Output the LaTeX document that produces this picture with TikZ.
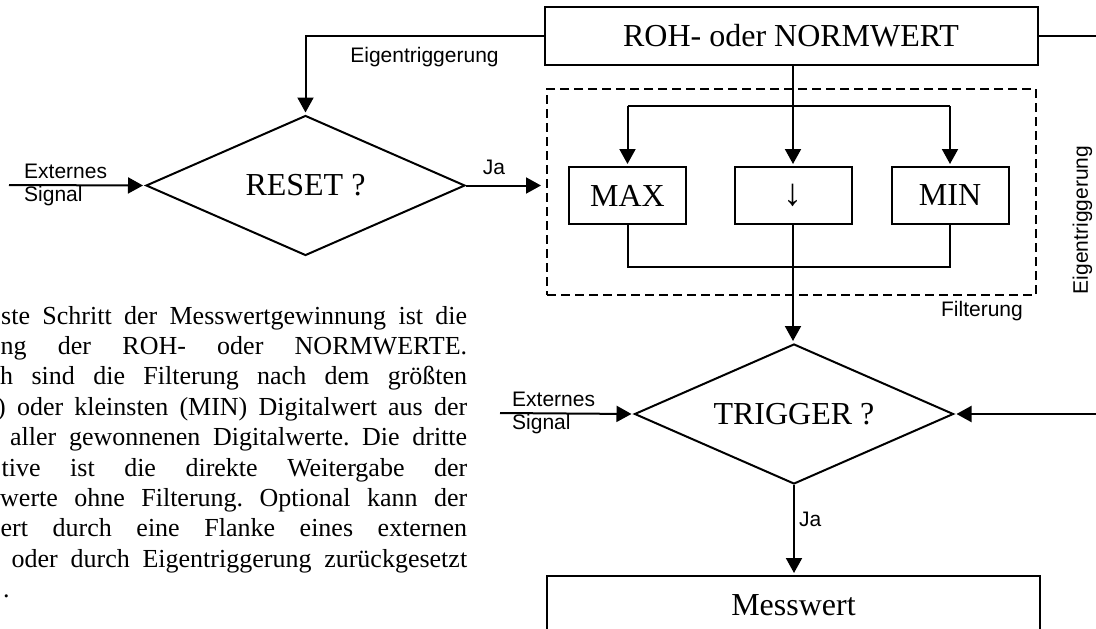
\documentclass[tikz,border=0pt]{standalone}
\usepackage{fontspec}
\setmainfont{Liberation Serif}
\setsansfont{Liberation Sans}
\usepackage{tikz}
\usetikzlibrary{arrows.meta,shapes.geometric,positioning}
\frenchspacing
\tikzset{
  wire/.style={line width=2pt},
  flow/.style={wire, -{Triangle[length=15pt,width=16pt]}, shorten >=2pt},
  block/.style={draw, rectangle, line width=2pt, inner sep=0pt, minimum width=493pt, minimum height=58pt, font=\fontsize{32}{38}\selectfont},
  filterbox/.style={block, minimum width=117pt, minimum height=57pt},
  decision/.style={draw, diamond, aspect=2.3, line width=2pt, inner sep=0pt, minimum width=319pt, minimum height=140pt, font=\fontsize{32}{38}\selectfont},
  lbl/.style={font=\sffamily\fontsize{21}{23.5}\selectfont, inner sep=0pt},
  body/.style={anchor=base west, inner sep=0pt, font=\fontsize{26}{30}\selectfont}
}

\begin{document}
\begin{tikzpicture}[x=1pt, y=-1pt]
        \useasboundingbox (0,0) rectangle (1096,629);
        \clip (0,0) rectangle (1096,629);

        % Blocks, filter group and decisions
        \node[block] (roh) at (791,36) {ROH- oder NORMWERT};
        \node[draw, line width=2pt, dash pattern=on 9pt off 5pt, minimum width=489pt, minimum height=206pt] (filter) at (791.5,192) {};
        \node[filterbox] (maxbox) at (627.5,195.5) {MAX};
        \node[filterbox, font=\fontsize{38}{40}\selectfont] (passbox) at (793,195.5) {↓};
        \node[filterbox] (minbox) at (950,195.5) {MIN};
        \node[decision] (reset) at (305.5,185.5) {RESET ?};
        \node[decision] (trigger) at (794,414) {TRIGGER ?};
        \node[block] (messwert) at (793.5,605) {Messwert};

        % Free ends and branch points
        \coordinate (resetin) at (9,185);
        \coordinate (triggerin) at (500,413);
        \coordinate (split) at (793,106);
        \coordinate (join) at (793,267);
        \coordinate (rback) at (1110,36);

        % Labels
        \node[lbl, align=left, right=15pt of resetin] (resetsig) {Externes\\Signal};
        \node[lbl, align=left, right=12pt of triggerin] (triggersig) {Externes\\Signal};
        \node[lbl, anchor=base east] (filtername) at (1023,316) {Filterung};
        \node[lbl, rotate=90] (selfright) at (1082.5,220) {Eigentriggerung};

        % Connectors
        \draw[flow] (resetin) -- (reset.west);
        \draw[flow] (roh.west) -| node[lbl, pos=0.25, below=10.5pt] (selfleft) {Eigentriggerung} (reset.north);
        \draw[flow, shorten >=5pt] (reset.east) -- node[lbl, pos=0.35, above=10pt] (resetyes) {Ja} (reset.east -| filter.west);

        \draw[flow] (roh.south -| passbox.north) -- (passbox.north);
        \draw[wire] (split -| maxbox.north) -- (split -| minbox.north);
        \draw[flow] (split -| maxbox.north) -- (maxbox.north);
        \draw[flow] (split -| minbox.north) -- (minbox.north);
        \draw[wire] (maxbox.south) |- (join) -| (minbox.south);
        \draw[flow] (passbox.south) -- (passbox.south |- trigger.north);

        \draw[flow] (triggerin) -- (trigger.west);
        \draw[flow] (roh.east) -- (rback) |- (trigger.east);
        \draw[flow] (trigger.south) -- node[lbl, pos=0.38, right=4pt] (triggeryes) {Ja} (trigger.south |- messwert.north);

        % Text column, cut off at the left edge
        \node[body] (txt1) at (1,324) {\makebox[466pt][s]{ste Schritt der Messwertgewinnung ist die}};
        \node[body] (txt2) at (0.5,354.4) {\makebox[466.5pt][s]{ng der ROH- oder NORMWERTE.}};
        \node[body] (txt3) at (0,384.8) {\makebox[467pt][s]{h sind die Filterung nach dem größten}};
        \node[body] (txt4) at (-3,415.2) {\makebox[470pt][s]{) oder kleinsten (MIN) Digitalwert aus der}};
        \node[body] (txt5) at (10,445.6) {\makebox[457pt][s]{aller gewonnenen Digitalwerte. Die dritte}};
        \node[body] (txt6) at (1.5,476) {\makebox[465.5pt][s]{tive ist die direkte Weitergabe der}};
        \node[body] (txt7) at (0,506.4) {\makebox[467pt][s]{werte ohne Filterung. Optional kann der}};
        \node[body] (txt8) at (0.5,536.8) {\makebox[466.5pt][s]{ert durch eine Flanke eines externen}};
        \node[body] (txt9) at (11.5,567.2) {\makebox[455.5pt][s]{oder durch Eigentriggerung zurückgesetzt}};
        \node[body] (txt10) at (3,597.6) {.};
    \end{tikzpicture}
\end{document}
